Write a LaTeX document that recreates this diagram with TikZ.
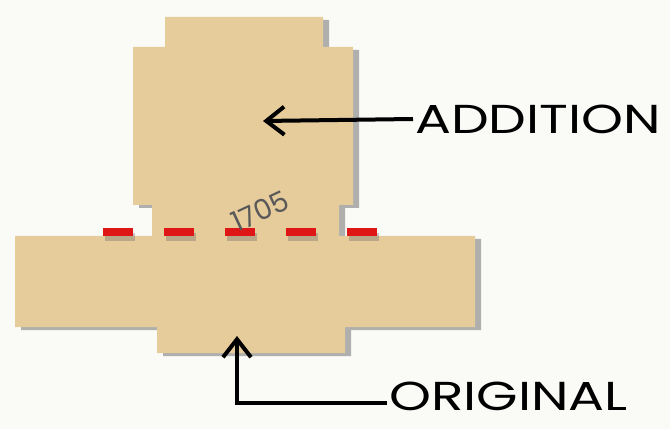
\documentclass[tikz,border=0pt]{standalone}
\usepackage{fontspec}
\newfontfamily\labelfont{Poppins}
\usetikzlibrary{arrows.meta}
\definecolor{plot}{RGB}{230,203,155}
\definecolor{paper}{RGB}{250,250,247}
\definecolor{wall}{RGB}{222,22,22}
\tikzset{
  footprint/.style={fill=plot},
  shade/.style={fill=black!60, opacity=0.5},
  pointer/.style={-{Straight Barb[length=3.6mm,width=5.6mm]}, line width=0.08cm},
  caption/.style={font=\labelfont\fontsize{23}{25}\selectfont, inner sep=1pt, anchor=west},
}
\begin{document}
\begin{tikzpicture}[x=0.02cm,y=-0.02cm]
\fill[paper] (0,0) rectangle (670,429);
\fill[shade, shift={(6,3)}] (165,17) -- (323,17) -- (323,47) -- (353,47) -- (353,205) -- (339,205) -- (339,236) -- (152,236) -- (152,205) -- (133,205) -- (133,47) -- (165,47) -- cycle;
\fill[shade, shift={(6,3)}] (15,236) -- (475,236) -- (475,327) -- (345,327) -- (345,353) -- (157,353) -- (157,327) -- (15,327) -- cycle;
\fill[footprint] (165,17) -- (323,17) -- (323,47) -- (353,47) -- (353,205) -- (339,205) -- (339,236) -- (152,236) -- (152,205) -- (133,205) -- (133,47) -- (165,47) -- cycle;
\fill[footprint] (15,236) -- (475,236) -- (475,327) -- (345,327) -- (345,353) -- (157,353) -- (157,327) -- (15,327) -- cycle;
\draw[black!60, opacity=0.35, line width=0.16cm, dash pattern=on 0.6cm off 0.62cm] (105,237) -- (381,237);
\coordinate (w1) at (103,232);
\coordinate (w2) at (379,232);
\draw[wall, line width=0.16cm, dash pattern=on 0.6cm off 0.62cm] (w1) -- (w2);
\node[rotate=25, text=black!65, font=\labelfont\fontsize{16}{16}\selectfont] (year) at (260,211) {1705};
\coordinate (addtip) at (263,121);
\node[caption] (addlbl) at (413,119) {\scalebox{1.32}[1]{ADDITION}};
\draw[pointer] (addlbl.west) -- (addtip);
\coordinate (origtip) at (237,336);
\node[caption] (origlbl) at (387,396) {\scalebox{1.32}[1]{ORIGINAL}};
\draw[pointer] ([yshift=-0.14cm]origlbl.west) -| (origtip);
\end{tikzpicture}
\end{document}
